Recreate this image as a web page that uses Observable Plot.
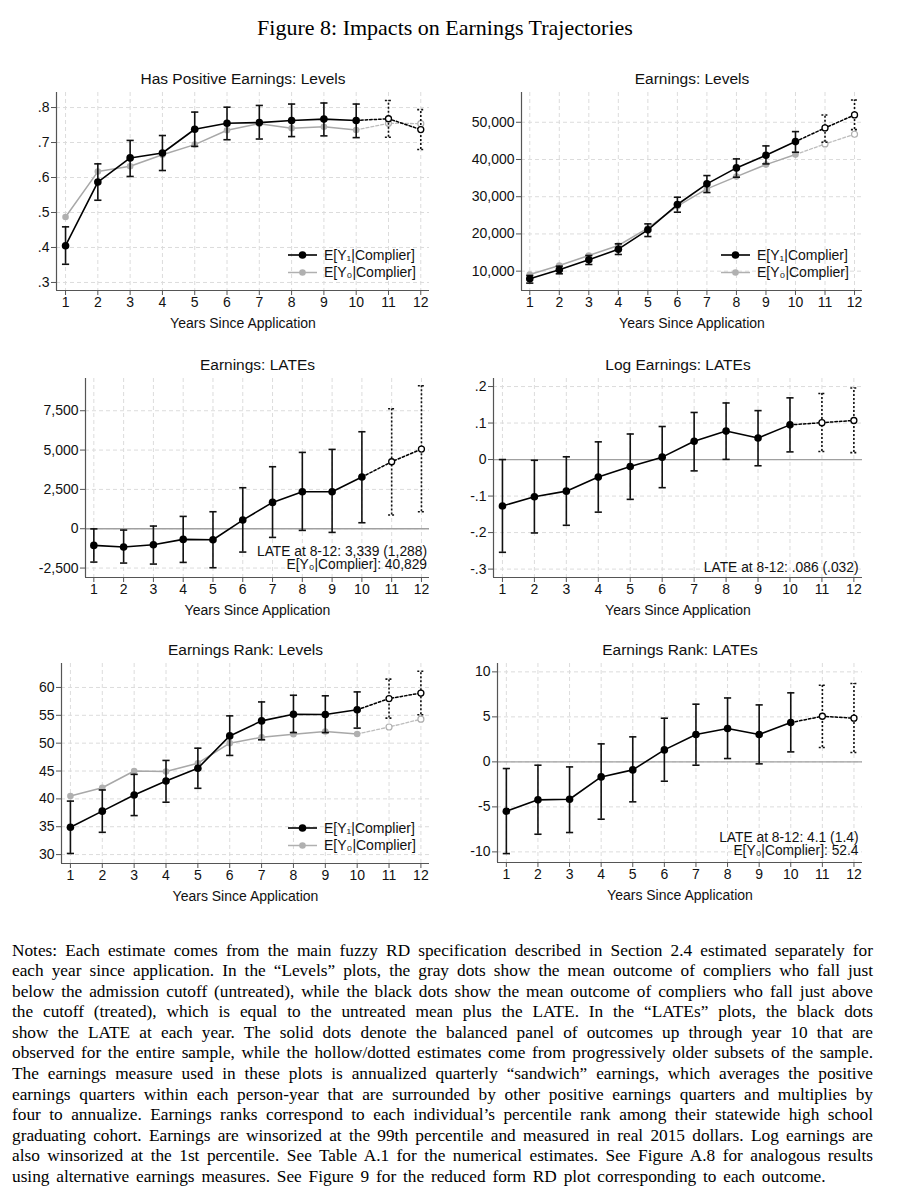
<!DOCTYPE html>
<html><head><meta charset="utf-8">
<script src="https://cdn.jsdelivr.net/npm/d3@7"></script>
<script src="https://cdn.jsdelivr.net/npm/@observablehq/plot@0.6"></script>
<style>
body{margin:0;background:#fff;}
#page{position:relative;width:906px;height:1200px;background:#fff;overflow:hidden;}
.panel{position:absolute;}
#title{position:absolute;left:-8px;top:16px;width:906px;text-align:center;font-family:"Liberation Serif","Times New Roman",serif;font-size:22px;line-height:24px;color:#000;}
#notes{position:absolute;left:12px;top:940.7px;width:861px;font-family:"Liberation Serif","Times New Roman",serif;font-size:17.3px;line-height:20.55px;color:#000;}
#notes div{text-align:justify;text-align-last:justify;white-space:nowrap;}
#notes div.last{text-align-last:left;word-spacing:2.5px;}
</style></head>
<body><div id="page">
<div id="title">Figure 8: Impacts on Earnings Trajectories</div>
<div id="notes"></div>
</div>
<script>
// ---------- DATA ----------
const years = [1,2,3,4,5,6,7,8,9,10,11,12];
const xTicks = [1,2,3,4,5,6,7,8,9,10,11,12];

// Has Positive Earnings: Levels
const posTreated   = [0.405,0.587,0.656,0.670,0.738,0.755,0.757,0.763,0.767,0.763,0.768,0.737];
const posTreatedLo = [0.352,0.535,0.603,0.620,0.689,0.708,0.710,0.717,0.719,0.714,0.715,0.680];
const posTreatedHi = [0.459,0.639,0.706,0.720,0.787,0.801,0.806,0.810,0.813,0.810,0.820,0.794];
const posUntreated = [0.487,0.617,0.632,0.665,0.694,0.735,0.754,0.741,0.745,0.736,0.755,0.754];
const posTicks = [0.3,0.4,0.5,0.6,0.7,0.8];

// Earnings: Levels
const earnTreated   = [7950,10360,13040,15900,21100,27900,33450,37740,41140,44810,48480,51970];
const earnTreatedLo = [6780,9290,11790,14480,19300,25840,31120,35240,38810,41950,44630,48030];
const earnTreatedHi = [8840,11340,14200,17340,22700,29860,35680,40160,43650,47490,51970,56000];
const earnUntreated = [9100,11520,14200,16890,21540,27450,32100,35410,38630,41320,44180,46780];
const earnTicks = [10000,20000,30000,40000,50000];

// Earnings: LATEs
const earnLate   = [-1060,-1165,-1017,-678,-699,551,1674,2352,2352,3284,4258,5064];
const earnLateLo = [-2120,-2182,-2246,-2140,-2479,-1483,-551,-106,-233,381,869,1081];
const earnLateHi = [-10,-85,170,784,1080,2606,3941,4852,5042,6165,7627,9089];
const earnLateTicks = [-2500,0,2500,5000,7500];
const earnLateNote = ["LATE at 8-12: 3,339 (1,288)", "E[Y\u2080|Complier]: 40,829"];

// Log Earnings: LATEs
const logLate   = [-0.127,-0.102,-0.0865,-0.048,-0.019,0.0066,0.050,0.078,0.059,0.095,0.101,0.107];
const logLateLo = [-0.254,-0.201,-0.180,-0.144,-0.109,-0.077,-0.031,0.0005,-0.017,0.021,0.022,0.019];
const logLateHi = [0.000,-0.002,0.0075,0.0485,0.070,0.0905,0.129,0.155,0.134,0.169,0.181,0.196];
const logLateTicks = [-0.3,-0.2,-0.1,0,0.1,0.2];
const logLateNote = ["LATE at 8-12: .086 (.032)"];

// Earnings Rank: Levels
const rankTreated   = [34.9,37.8,40.7,43.2,45.5,51.3,54.0,55.2,55.15,56.0,58.0,59.0];
const rankTreatedLo = [30.2,34.0,37.0,39.4,41.9,47.8,50.6,51.9,51.9,52.7,54.5,55.1];
const rankTreatedHi = [39.6,41.6,44.4,46.9,49.1,54.9,57.4,58.6,58.5,59.2,61.5,62.9];
const rankUntreated = [40.5,42.0,45.0,44.9,46.4,50.0,51.05,51.6,52.1,51.65,52.9,54.3];
const rankTicks = [30,35,40,45,50,55,60];

// Earnings Rank: LATEs
const rankLate   = [-5.48,-4.22,-4.15,-1.67,-0.89,1.33,3.04,3.7,3.04,4.37,5.07,4.85];
const rankLateLo = [-10.19,-8.04,-7.85,-6.37,-4.44,-2.15,-0.37,0.37,-0.22,1.11,1.59,1.04];
const rankLateHi = [-0.74,-0.37,-0.56,2.0,2.78,4.85,6.41,7.1,6.33,7.67,8.52,8.7];
const rankLateTicks = [-10,-5,0,5,10];
const rankLateNote = ["LATE at 8-12: 4.1 (1.4)", "E[Y\u2080|Complier]: 52.4"];

const legendLabels = ["E[Y\u2081|Complier]", "E[Y\u2080|Complier]"];
const xLabel = "Years Since Application";
const lastSolidYear = 10;

const notesLines = [
"Notes: Each estimate comes from the main fuzzy RD specification described in Section 2.4 estimated separately for",
"each year since application. In the \u201cLevels\u201d plots, the gray dots show the mean outcome of compliers who fall just",
"below the admission cutoff (untreated), while the black dots show the mean outcome of compliers who fall just above",
"the cutoff (treated), which is equal to the untreated mean plus the LATE. In the \u201cLATEs\u201d plots, the black dots",
"show the LATE at each year. The solid dots denote the balanced panel of outcomes up through year 10 that are",
"observed for the entire sample, while the hollow/dotted estimates come from progressively older subsets of the sample.",
"The earnings measure used in these plots is annualized quarterly \u201csandwich\u201d earnings, which averages the positive",
"earnings quarters within each person-year that are surrounded by other positive earnings quarters and multiplies by",
"four to annualize. Earnings ranks correspond to each individual\u2019s percentile rank among their statewide high school",
"graduating cohort. Earnings are winsorized at the 99th percentile and measured in real 2015 dollars. Log earnings are",
"also winsorized at the 1st percentile. See Table A.1 for the numerical estimates. See Figure A.8 for analogous results",
"using alternative earnings measures. See Figure 9 for the reduced form RD plot corresponding to each outcome."
];

// ---------- FORMATTERS ----------
const fmtDec = d => d === 0 ? "0" : String(+d.toFixed(2)).replace(/^(-?)0\./, "$1.");
const fmtComma = d => d.toLocaleString("en-US");
const fmtInt = d => String(d);

// ---------- HELPERS ----------
const FONT = '"Liberation Sans", Arial, Helvetica, sans-serif';
const cap = { draw(ctx, size) { const r = Math.sqrt(size / Math.PI); ctx.moveTo(-r, 0); ctx.lineTo(r, 0); } };

function rows(vals, lo, hi) {
  return years.map((x, i) => ({x, y: vals[i], lo: lo ? lo[i] : null, hi: hi ? hi[i] : null}));
}

function panel(cfg) {
  const {svgLeft, svgTop, svgW, svgH, px0, px1, py0, py1, xDomain, yDomain, yTicks, yFormat,
         title, treated, lo, hi, untreated, zeroLine, note, legend} = cfg;
  const T = rows(treated, lo, hi);
  const solid = T.filter(d => d.x <= lastSolidYear);
  const ext = T.filter(d => d.x >= lastSolidYear);
  const extOnly = T.filter(d => d.x > lastSolidYear);
  const grid = {stroke: "#dcdcdc", strokeOpacity: 1, strokeDasharray: "4,3", strokeWidth: 1};
  const marks = [
    Plot.gridY(yTicks, grid),
    Plot.gridX(xTicks, grid),
  ];
  if (zeroLine) marks.push(Plot.ruleY([0], {stroke: "#a0a0a0", strokeWidth: 1.3}));
  if (untreated) {
    const U = rows(untreated);
    marks.push(
      Plot.line(U.filter(d => d.x <= lastSolidYear), {x: "x", y: "y", stroke: "#a8a8a8", strokeWidth: 1.5}),
      Plot.line(U.filter(d => d.x >= lastSolidYear), {x: "x", y: "y", stroke: "#bdbdbd", strokeWidth: 1.3, strokeDasharray: "3,2"}),
      Plot.dot(U.filter(d => d.x <= lastSolidYear), {x: "x", y: "y", r: 3.3, fill: "#b0b0b0", stroke: "none"}),
      Plot.dot(U.filter(d => d.x > lastSolidYear), {x: "x", y: "y", r: 3, fill: "white", stroke: "#b0b0b0", strokeWidth: 1.2})
    );
  }
  marks.push(
    Plot.ruleX(solid, {x: "x", y1: "lo", y2: "hi", stroke: "#111", strokeWidth: 1.6}),
    Plot.dot(solid, {x: "x", y: "lo", symbol: cap, r: 3.6, stroke: "#111", fill: "none", strokeWidth: 1.6}),
    Plot.dot(solid, {x: "x", y: "hi", symbol: cap, r: 3.6, stroke: "#111", fill: "none", strokeWidth: 1.6}),
    Plot.ruleX(extOnly, {x: "x", y1: "lo", y2: "hi", stroke: "#111", strokeWidth: 1.6, strokeDasharray: "2,2"}),
    Plot.dot(extOnly, {x: "x", y: "lo", symbol: cap, r: 3.6, stroke: "#111", fill: "none", strokeWidth: 1.6, strokeDasharray: "2,2"}),
    Plot.dot(extOnly, {x: "x", y: "hi", symbol: cap, r: 3.6, stroke: "#111", fill: "none", strokeWidth: 1.6, strokeDasharray: "2,2"}),
    Plot.line(solid, {x: "x", y: "y", stroke: "#000", strokeWidth: 1.6}),
    Plot.line(ext, {x: "x", y: "y", stroke: "#000", strokeWidth: 1.5, strokeDasharray: "2.5,2"}),
    Plot.dot(solid, {x: "x", y: "y", r: 3.8, fill: "#000", stroke: "none"}),
    Plot.dot(extOnly, {x: "x", y: "y", r: 3, fill: "white", stroke: "#000", strokeWidth: 1.3}),
    Plot.ruleX([xDomain[0]], {stroke: "#555", strokeWidth: 1.2}),
    Plot.ruleY([yDomain[0]], {stroke: "#555", strokeWidth: 1.2}),
    Plot.axisY(yTicks, {tickFormat: yFormat, tickSize: 5, tickPadding: 2, fontSize: 14, label: null, stroke: "#555", color: "#111"}),
    Plot.axisX(xTicks, {tickFormat: fmtInt, tickSize: 5, tickPadding: 2, fontSize: 14, label: null, stroke: "#555", color: "#111"}),
    Plot.text([title], {frameAnchor: "top", lineAnchor: "middle", dy: cfg.titleDy, fontSize: 15.5, fill: "#111"}),
    Plot.text([xLabel], {frameAnchor: "bottom", lineAnchor: "middle", dy: 33, fontSize: 14, fill: "#111"})
  );
  if (note) {
    note.forEach((t, i) => {
      marks.push(Plot.text([t], {frameAnchor: "bottom-right", lineAnchor: "middle", textAnchor: "end", dx: cfg.noteDx,
        dy: cfg.noteDy + (i - (note.length - 1)) * 12.8, fontSize: 13.8, fill: "#111"}));
    });
  }
  const svg = Plot.plot({
    width: svgW, height: svgH,
    marginLeft: px0 - svgLeft, marginRight: svgLeft + svgW - px1,
    marginTop: py0 - svgTop, marginBottom: svgTop + svgH - py1,
    x: {domain: xDomain, label: null},
    y: {domain: yDomain, label: null},
    style: {fontFamily: FONT, background: "white", overflow: "visible"},
    marks
  });
  if (legend) {
    const g = d3.select(svg).append("g").attr("font-family", FONT).attr("font-size", 14).attr("text-anchor", "start");
    const right = px1 - svgLeft, bottom = py1 - svgTop;
    const items = [{c: "#000", w: 1.6, r: 3.8, t: legendLabels[0], dy: -35}, {c: "#b0b0b0", w: 1.5, r: 3.3, t: legendLabels[1], dy: -17.5}];
    items.forEach(it => {
      const y = bottom + it.dy;
      g.append("line").attr("x1", right - 141).attr("x2", right - 112).attr("y1", y).attr("y2", y).attr("stroke", it.c).attr("stroke-width", it.w);
      g.append("circle").attr("cx", right - 126.5).attr("cy", y).attr("r", it.r).attr("fill", it.c);
      g.append("text").attr("x", right - 105).attr("y", y).attr("dy", "0.35em").attr("text-anchor", "start").attr("fill", "#111").text(it.t);
    });
  }
  const div = document.createElement("div");
  div.className = "panel";
  div.style.left = svgLeft + "px";
  div.style.top = svgTop + "px";
  div.appendChild(svg);
  document.getElementById("page").appendChild(div);
}

const XD = [0.72, 12.27];

panel({svgLeft: 0, svgTop: 60, svgW: 450, svgH: 280, px0: 56, px1: 429, py0: 92, py1: 290,
  xDomain: XD, yDomain: [0.277, 0.843], yTicks: posTicks, yFormat: fmtDec, titleDy: -13,
  title: "Has Positive Earnings: Levels", treated: posTreated, lo: posTreatedLo, hi: posTreatedHi,
  untreated: posUntreated, legend: true});

panel({svgLeft: 453, svgTop: 60, svgW: 453, svgH: 280, px0: 521, px1: 862, py0: 92, py1: 290,
  xDomain: XD, yDomain: [4800, 58000], yTicks: earnTicks, yFormat: fmtComma, titleDy: -13,
  title: "Earnings: Levels", treated: earnTreated, lo: earnTreatedLo, hi: earnTreatedHi,
  untreated: earnUntreated, legend: true});

panel({svgLeft: 0, svgTop: 345, svgW: 450, svgH: 280, px0: 85, px1: 429, py0: 378, py1: 577,
  xDomain: XD, yDomain: [-3100, 9550], yTicks: earnLateTicks, yFormat: fmtComma, titleDy: -13,
  title: "Earnings: LATEs", treated: earnLate, lo: earnLateLo, hi: earnLateHi, zeroLine: true,
  note: earnLateNote, noteDx: -2.5, noteDy: -12.7});

panel({svgLeft: 453, svgTop: 345, svgW: 453, svgH: 280, px0: 493, px1: 862, py0: 378, py1: 577,
  xDomain: XD, yDomain: [-0.323, 0.222], yTicks: logLateTicks, yFormat: fmtDec, titleDy: -13,
  title: "Log Earnings: LATEs", treated: logLate, lo: logLateLo, hi: logLateHi, zeroLine: true,
  note: logLateNote, noteDx: -4, noteDy: -10.3});

panel({svgLeft: 0, svgTop: 630, svgW: 450, svgH: 280, px0: 61, px1: 429, py0: 663, py1: 863,
  xDomain: XD, yDomain: [28.4, 64.3], yTicks: rankTicks, yFormat: fmtInt, titleDy: -13,
  title: "Earnings Rank: Levels", treated: rankTreated, lo: rankTreatedLo, hi: rankTreatedHi,
  untreated: rankUntreated, legend: true});

panel({svgLeft: 453, svgTop: 630, svgW: 453, svgH: 280, px0: 497, px1: 862, py0: 663, py1: 862,
  xDomain: XD, yDomain: [-11.18, 10.93], yTicks: rankLateTicks, yFormat: fmtInt, titleDy: -13,
  title: "Earnings Rank: LATEs", treated: rankLate, lo: rankLateLo, hi: rankLateHi, zeroLine: true,
  note: rankLateNote, noteDx: -4, noteDy: -12});

const notes = document.getElementById("notes");
notesLines.forEach((t, i) => {
  const d = document.createElement("div");
  if (i === notesLines.length - 1) d.className = "last";
  d.textContent = t;
  notes.appendChild(d);
});
</script>
</body></html>
